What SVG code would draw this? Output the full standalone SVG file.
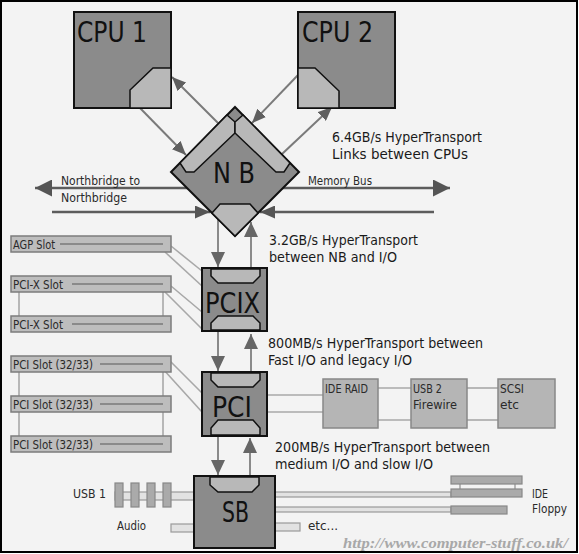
<svg xmlns="http://www.w3.org/2000/svg" width="579" height="554" viewBox="0 0 579 554">
<style>
.chip{fill:#8b8b8b;stroke:#111;stroke-width:2}
.light{fill:#b8b8b8;stroke:#111;stroke-width:1.5}
.slot{fill:#bdbdbd;stroke:#7c7c7c;stroke-width:1.5}
.groove{stroke:#8a8a8a;stroke-width:2}
.dev{fill:#b5b5b5;stroke:#888;stroke-width:1.5}
.bus{fill:#e2e2e2;stroke:#9a9a9a;stroke-width:1.2}
.conn{fill:#aaaaaa;stroke:#888;stroke-width:1.2}
.ht{stroke:#7a7a7a;stroke-width:2;fill:none}
.vl{stroke:#8a8a8a;stroke-width:2;fill:none}
.sl{stroke:#a8a8a8;stroke-width:1.6;fill:none}
.mb{stroke:#5c5c5c;stroke-width:2.5;fill:none}
text{font-family:"DejaVu Sans Condensed","DejaVu Sans",sans-serif;fill:#1a1a1a}
.big{font-size:28px;fill:#111}
.mid{font-size:14px}
.sm{font-size:12px;fill:#2a2a2a}
.wm{font-family:"Liberation Serif",serif;font-style:italic;font-weight:bold;font-size:15px;fill:#a8a8a8}
</style>
<defs>
<marker id="ah" markerUnits="userSpaceOnUse" markerWidth="14" markerHeight="12" refX="14" refY="6" orient="auto"><path d="M0,0 L14,6 L0,12 z" fill="#5f5f5f"/></marker>
<marker id="av" markerUnits="userSpaceOnUse" markerWidth="15" markerHeight="14" refX="15" refY="7" orient="auto"><path d="M0,0 L15,7 L0,14 z" fill="#666"/></marker>
<marker id="ab" markerUnits="userSpaceOnUse" markerWidth="17" markerHeight="17" refX="17" refY="8.5" orient="auto-start-reverse"><path d="M0,0 L17,8.5 L0,17 z" fill="#555"/></marker>
<marker id="am" markerUnits="userSpaceOnUse" markerWidth="15" markerHeight="13" refX="15" refY="6.5" orient="auto"><path d="M0,0 L15,6.5 L0,13 z" fill="#555"/></marker>
</defs>
<rect x="1" y="1" width="576" height="551" fill="#f3f3f3" stroke="#000" stroke-width="2"/>

<g id="connectors">
<line class="mb" x1="35" y1="188" x2="450" y2="188" marker-start="url(#ab)" marker-end="url(#ab)"/>
<line class="mb" x1="52" y1="212" x2="210" y2="212" marker-end="url(#am)"/>
<line class="mb" x1="434" y1="212" x2="260" y2="212" marker-end="url(#am)"/>
<line class="ht" x1="140" y1="108" x2="186" y2="155" marker-end="url(#ah)"/>
<line class="ht" x1="218" y1="123" x2="172" y2="77" marker-end="url(#ah)"/>
<line class="ht" x1="298" y1="75" x2="252" y2="123" marker-end="url(#ah)"/>
<line class="ht" x1="282" y1="154" x2="332" y2="107" marker-end="url(#ah)"/>
<line class="vl" x1="218" y1="219" x2="218" y2="267" marker-end="url(#av)"/>
<line class="vl" x1="251" y1="268" x2="251" y2="222" marker-end="url(#av)"/>
<line class="vl" x1="218" y1="331" x2="218" y2="371" marker-end="url(#av)"/>
<line class="vl" x1="251" y1="372" x2="251" y2="334" marker-end="url(#av)"/>
<line class="vl" x1="218" y1="436" x2="218" y2="475" marker-end="url(#av)"/>
<line class="vl" x1="250" y1="476" x2="250" y2="438" marker-end="url(#av)"/>
<line class="sl" x1="171" y1="246" x2="202" y2="271"/>
<line class="sl" x1="165" y1="252" x2="202" y2="286"/>
<line class="sl" x1="171" y1="286" x2="202" y2="312"/>
<line class="sl" x1="165" y1="292" x2="202" y2="329"/>
<line class="sl" x1="170" y1="361" x2="202" y2="393"/>
<line class="sl" x1="163" y1="369" x2="202" y2="412"/>
<line class="sl" x1="19" y1="292" x2="19" y2="316"/>
<line class="sl" x1="163" y1="292" x2="163" y2="316"/>
<line class="sl" x1="19" y1="372" x2="19" y2="396"/>
<line class="sl" x1="163" y1="372" x2="163" y2="396"/>
<line class="sl" x1="19" y1="412" x2="19" y2="436"/>
<line class="sl" x1="163" y1="412" x2="163" y2="436"/>
<line class="sl" x1="267" y1="395" x2="323" y2="395"/>
<line class="sl" x1="267" y1="412" x2="323" y2="412"/>
<line class="sl" x1="378" y1="388" x2="411" y2="388"/>
<line class="sl" x1="378" y1="420" x2="411" y2="420"/>
<line class="sl" x1="467" y1="388" x2="498" y2="388"/>
<line class="sl" x1="467" y1="420" x2="498" y2="420"/>
<rect class="bus" x="115" y="492" width="80" height="8"/>
<rect class="bus" x="171" y="524" width="23" height="8"/>
<rect class="bus" x="275" y="492" width="176" height="5"/>
<rect class="bus" x="275" y="507" width="176" height="5"/>
<rect class="bus" x="275" y="523" width="25" height="8"/>
<line class="sl" x1="460" y1="484" x2="460" y2="489"/>
<line class="sl" x1="515" y1="484" x2="515" y2="489"/>
</g>

<g id="cpu1">
<rect class="chip" x="74" y="12" width="97" height="96"/>
<polygon class="light" points="130,108 130,90 153,68 171,68 171,108"/>
<text class="big" x="77" y="42" textLength="70" lengthAdjust="spacingAndGlyphs">CPU 1</text>
</g>
<g id="cpu2">
<rect class="chip" x="298" y="12" width="97" height="96"/>
<polygon class="light" points="298,68 315,68 339,91 339,108 298,108"/>
<text class="big" x="302" y="42" textLength="71" lengthAdjust="spacingAndGlyphs">CPU 2</text>
</g>
<g id="nb">
<polygon class="chip" points="235,107 299,172 235,236 171,172"/>
<polygon class="light" points="180,163 227,115 235,122 235,133 194,172 186,172"/>
<polygon class="light" points="290,163 243,115 235,122 235,133 276,172 284,172"/>
<polygon class="light" points="212,213 220,204 250,204 258,213 235,236"/>
<text class="big" x="213" y="183" textLength="42" lengthAdjust="spacingAndGlyphs">N B</text>
</g>
<g id="pcix">
<rect class="chip" x="202" y="268" width="65" height="63"/>
<polygon class="light" points="211,269 260,269 260,276 253,283 218,283 211,276"/>
<polygon class="light" points="211,330 260,330 260,323 253,316 218,316 211,323"/>
<text class="big" x="205" y="313" textLength="55" lengthAdjust="spacingAndGlyphs">PCIX</text>
</g>
<g id="pci">
<rect class="chip" x="202" y="372" width="65" height="64"/>
<polygon class="light" points="211,373 260,373 260,380 253,387 218,387 211,380"/>
<polygon class="light" points="211,435 260,435 260,428 253,420 218,420 211,428"/>
<text class="big" x="212" y="417" textLength="40" lengthAdjust="spacingAndGlyphs">PCI</text>
</g>
<g id="sb">
<rect class="chip" x="194" y="476" width="81" height="72"/>
<polygon class="light" points="210,477 259,477 259,485 252,492 218,492 210,485"/>
<text class="big" x="222" y="522" textLength="27" lengthAdjust="spacingAndGlyphs">SB</text>
</g>

<g id="agp">
<rect class="slot" x="11" y="236" width="160" height="16"/>
<line class="groove" x1="60" y1="244" x2="163" y2="244"/>
<text class="sm" x="13" y="249" textLength="42" lengthAdjust="spacingAndGlyphs">AGP Slot</text>
</g>
<g id="pcix-slot1">
<rect class="slot" x="11" y="276" width="160" height="16"/>
<line class="groove" x1="72" y1="284" x2="163" y2="284"/>
<text class="sm" x="13" y="289" textLength="50" lengthAdjust="spacingAndGlyphs">PCI-X Slot</text>
</g>
<g id="pcix-slot2">
<rect class="slot" x="11" y="316" width="160" height="16"/>
<line class="groove" x1="72" y1="324" x2="163" y2="324"/>
<text class="sm" x="13" y="329" textLength="50" lengthAdjust="spacingAndGlyphs">PCI-X Slot</text>
</g>
<g id="pci-slot1">
<rect class="slot" x="11" y="356" width="160" height="16"/>
<line class="groove" x1="100" y1="364" x2="163" y2="364"/>
<text class="sm" x="13" y="369" textLength="80" lengthAdjust="spacingAndGlyphs">PCI Slot (32/33)</text>
</g>
<g id="pci-slot2">
<rect class="slot" x="11" y="396" width="160" height="16"/>
<line class="groove" x1="100" y1="404" x2="163" y2="404"/>
<text class="sm" x="13" y="409" textLength="80" lengthAdjust="spacingAndGlyphs">PCI Slot (32/33)</text>
</g>
<g id="pci-slot3">
<rect class="slot" x="11" y="436" width="160" height="16"/>
<line class="groove" x1="100" y1="444" x2="163" y2="444"/>
<text class="sm" x="13" y="449" textLength="80" lengthAdjust="spacingAndGlyphs">PCI Slot (32/33)</text>
</g>

<g id="ide-raid">
<rect class="dev" x="323" y="379" width="55" height="49"/>
<text class="sm" x="325" y="393" textLength="43" lengthAdjust="spacingAndGlyphs">IDE RAID</text>
</g>
<g id="usb2">
<rect class="dev" x="411" y="379" width="56" height="49"/>
<text class="sm" x="413" y="393" textLength="29" lengthAdjust="spacingAndGlyphs">USB 2</text>
<text class="sm" x="413" y="409" textLength="44" lengthAdjust="spacingAndGlyphs">Firewire</text>
</g>
<g id="scsi">
<rect class="dev" x="498" y="379" width="57" height="49"/>
<text class="sm" x="500" y="393" textLength="24" lengthAdjust="spacingAndGlyphs">SCSI</text>
<text class="sm" x="500" y="409" textLength="19" lengthAdjust="spacingAndGlyphs">etc</text>
</g>

<g id="usb1">
<rect class="conn" x="115" y="483" width="8" height="24"/>
<rect class="conn" x="131" y="483" width="8" height="24"/>
<rect class="conn" x="147" y="483" width="8" height="24"/>
<rect class="conn" x="163" y="483" width="8" height="24"/>
<text class="sm" x="73" y="498" textLength="33" lengthAdjust="spacingAndGlyphs">USB 1</text>
</g>
<g id="audio">
<text class="sm" x="117" y="530" textLength="29" lengthAdjust="spacingAndGlyphs">Audio</text>
</g>
<g id="ide">
<rect class="conn" x="451" y="476" width="71" height="8"/>
<rect class="conn" x="451" y="489" width="71" height="8"/>
<text class="sm" x="532" y="498" textLength="16" lengthAdjust="spacingAndGlyphs">IDE</text>
</g>
<g id="floppy">
<rect class="conn" x="451" y="506" width="56" height="8"/>
<text class="sm" x="532" y="513" textLength="35" lengthAdjust="spacingAndGlyphs">Floppy</text>
</g>
<g id="etc">
<text class="sm" x="308" y="530" textLength="30" lengthAdjust="spacingAndGlyphs">etc...</text>
</g>

<g id="labels">
<text class="sm" x="61" y="185" textLength="79" lengthAdjust="spacingAndGlyphs">Northbridge to</text>
<text class="sm" x="61" y="202" textLength="66" lengthAdjust="spacingAndGlyphs">Northbridge</text>
<text class="sm" x="308" y="185" textLength="64" lengthAdjust="spacingAndGlyphs">Memory Bus</text>
<text class="mid" x="332" y="142" textLength="150" lengthAdjust="spacingAndGlyphs">6.4GB/s HyperTransport</text>
<text class="mid" x="332" y="159" textLength="136" lengthAdjust="spacingAndGlyphs">Links between CPUs</text>
<text class="mid" x="269" y="245" textLength="149" lengthAdjust="spacingAndGlyphs">3.2GB/s HyperTransport</text>
<text class="mid" x="269" y="262" textLength="128" lengthAdjust="spacingAndGlyphs">between NB and I/O</text>
<text class="mid" x="268" y="348" textLength="215" lengthAdjust="spacingAndGlyphs">800MB/s HyperTransport between</text>
<text class="mid" x="268" y="365" textLength="144" lengthAdjust="spacingAndGlyphs">Fast I/O and legacy I/O</text>
<text class="mid" x="275" y="452" textLength="215" lengthAdjust="spacingAndGlyphs">200MB/s HyperTransport between</text>
<text class="mid" x="275" y="469" textLength="158" lengthAdjust="spacingAndGlyphs">medium I/O and slow I/O</text>
<text class="wm" x="343" y="548" textLength="225" lengthAdjust="spacingAndGlyphs">http://www.computer-stuff.co.uk/</text>
</g>
</svg>
